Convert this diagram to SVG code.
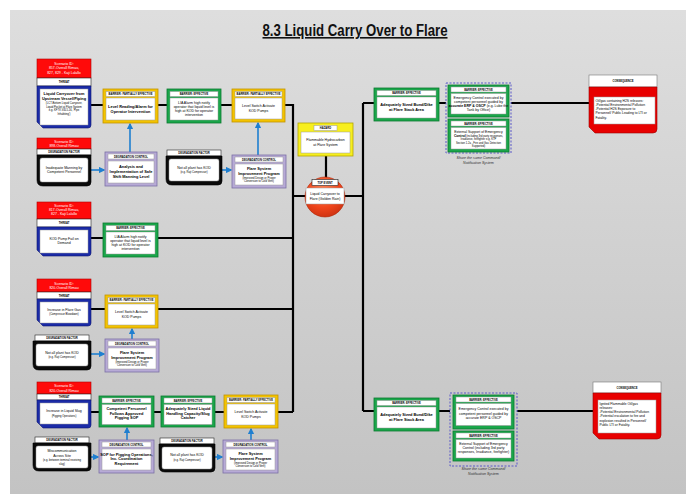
<svg xmlns="http://www.w3.org/2000/svg" width="686" height="494" viewBox="0 0 686 494">
<defs>
<linearGradient id="bg" x1="0" y1="0" x2="0" y2="1"><stop offset="0" stop-color="#dedede"/><stop offset="1" stop-color="#c3c3c3"/></linearGradient>
<radialGradient id="te" cx="0.45" cy="0.35" r="0.7"><stop offset="0" stop-color="#ff8a5a"/><stop offset="0.6" stop-color="#f0451c"/><stop offset="1" stop-color="#c93010"/></radialGradient>
<marker id="ah" viewBox="0 0 10 10" refX="8" refY="5" markerWidth="4" markerHeight="4" orient="auto"><path d="M0,0 L10,5 L0,10 z" fill="#1f7fd0"/></marker>
<style>
text{font-family:"Liberation Sans",Arial,sans-serif;text-anchor:middle;fill:#000}
.hd{font-size:2.7px;font-weight:bold}
.b{font-size:3.9px;font-weight:bold}
.n{font-size:3.5px}
.s{font-size:2.7px}
.sc{font-size:3.5px;fill:#fff}
.cap{font-size:3.6px;font-style:italic;fill:#333}
.cq{font-size:3.3px;text-anchor:start}
.g{fill:#1aa64a;stroke:#0c7a30;stroke-width:0.8}
.y{fill:#f3c300;stroke:#c29500;stroke-width:0.8}
.hz{fill:#f7ef1e;stroke:#b3a600;stroke-width:0.8}
.p{fill:#b7aad6;stroke:#7c70a6;stroke-width:0.8}
.w{fill:#fff;stroke:#9a9a9a;stroke-width:0.5}
.wb{fill:#fff;stroke:#222;stroke-width:0.6}
.red{fill:#ff0a0a;stroke:#b00000;stroke-width:0.6}
.blue{fill:#1b2ba8;stroke:#0d1670;stroke-width:0.6}
.blk{fill:#0a0a0a;stroke:#000;stroke-width:0.6}
.cr{fill:#e80000;stroke:#9a0000;stroke-width:0.6}
.grp{fill:none;stroke:#5a58c8;stroke-width:1;stroke-dasharray:2,1.5}
.ln{fill:none;stroke:#000;stroke-width:2.2}
.ar{fill:none;stroke:#1f7fd0;stroke-width:1.6;marker-end:url(#ah)}
.title{font-size:16px;font-weight:bold;text-decoration:underline;fill:#111}
</style>
</defs>
<rect x="10" y="10" width="676" height="484" fill="url(#bg)"/>
<text class="title" x="355" y="36" textLength="185" lengthAdjust="spacingAndGlyphs">8.3 Liquid Carry Over to Flare</text>

<g id="connectors">
<path class="ln" d="M91,105 H103 M158,105 H167 M221,105 H232 M285,105 H293 V412"/>
<path class="ln" d="M91,238 H103 M158,238 H293"/>
<path class="ln" d="M91,309 H105 M158,309 H293"/>
<path class="ln" d="M91,412 H99 M154,412 H161 M215,412 H224 M278,412 H293"/>
<path class="ln" d="M293,196 H363 M326,156 V178"/>
<path class="ln" d="M363,103 V411 M363,103 H374 M439,103 H446 M511,103 H589"/>
<path class="ln" d="M363,411 H374 M439,411 H450 M517,411 H593"/>
<path class="ar" d="M91,170 H104"/>
<path class="ar" d="M130,152 V124"/>
<path class="ar" d="M222,170 H231"/>
<path class="ar" d="M258,155 V123"/>
<path class="ar" d="M91,354 H104"/>
<path class="ar" d="M132,339 V329"/>
<path class="ar" d="M91,457 H98"/>
<path class="ar" d="M127,440 V428"/>
<path class="ar" d="M215,457 H222"/>
<path class="ar" d="M251,440 V429"/>
</g>

<g id="threat1">
<rect class="red" x="37" y="59" width="54" height="19"/>
<text class="sc" x="64" y="64.5">Scenario ID:</text>
<text class="sc" x="64" y="69">857-Overall Rimau,</text>
<text class="sc" x="64" y="73.5">827, 829 - Kaji Lalallo</text>
<rect class="wb" x="37" y="78" width="54" height="8"/>
<text class="hd" x="64" y="83">THREAT</text>
<path class="blue" d="M37,86 H91 V125 Q91,128 88,128 H43 L37,122 Z"/>
<rect class="w" x="40" y="89" width="48" height="36"/>
<text class="b" x="64" y="95">Liquid Carryover from</text>
<text class="b" x="64" y="99.5">Upstream Vessel/Piping</text>
<text class="s" x="64" y="104">(LCT-Bottom Liquid Carryover,</text>
<text class="s" x="64" y="107.5">Liquid Pocket at Flare System</text>
<text class="s" x="64" y="111">e.g. KFTV-V4L5-16, 'Pipe</text>
<text class="s" x="64" y="114.5">Inhabiting')</text>
</g>

<g id="barrier1">
<rect class="y" x="103" y="89" width="55" height="34"/>
<rect class="w" x="106" y="91.5" width="49" height="5"/>
<text class="hd" x="130.5" y="95">BARRIER: PARTIALLY EFFECTIVE</text>
<rect class="w" x="106" y="98" width="49" height="22"/>
<text class="b" x="130.5" y="107.5">Level Reading/Alarm for</text>
<text class="b" x="130.5" y="112.5">Operator Intervention</text>
</g>

<g id="barrier2">
<rect class="g" x="167" y="89" width="54" height="34"/>
<rect class="w" x="170" y="91.5" width="48" height="5"/>
<text class="hd" x="194" y="95">BARRIER: EFFECTIVE</text>
<rect class="w" x="170" y="98" width="48" height="22"/>
<text class="n" x="194" y="103.5">LIA Alarm high notify</text>
<text class="n" x="194" y="107.5">operator that liquid level is</text>
<text class="n" x="194" y="111.5">high at KOD for operator</text>
<text class="n" x="194" y="115.5">intervention</text>
</g>

<g id="barrier3">
<rect class="y" x="232" y="89" width="53" height="33"/>
<rect class="w" x="235" y="91.5" width="47" height="5"/>
<text class="hd" x="258.5" y="95">BARRIER: PARTIALLY EFFECTIVE</text>
<rect class="w" x="235" y="98" width="47" height="21"/>
<text class="n" x="258.5" y="107">Level Switch Activate</text>
<text class="n" x="258.5" y="111.5">KOD Pumps</text>
</g>

<g id="degfactor1">
<rect class="red" x="37" y="138" width="54" height="11"/>
<text class="sc" x="64" y="143">Scenario ID:</text>
<text class="sc" x="64" y="147.2">898-Overall Rimau</text>
<rect class="wb" x="37" y="149" width="54" height="6"/>
<text class="hd" x="64" y="153">DEGRADATION FACTOR</text>
<path class="blk" d="M37,155 H91 V182 Q91,186 87,186 H43 Q37,186 37,180 Z"/>
<rect class="w" x="40" y="158" width="48" height="24" rx="2"/>
<text class="n" x="64" y="168.5">Inadequate Manning by</text>
<text class="n" x="64" y="173">Competent Personnel</text>
</g>

<g id="degcontrol1">
<rect class="p" x="105" y="152" width="52" height="34"/>
<rect class="w" x="108" y="154" width="46" height="5"/>
<text class="hd" x="131" y="157.5">DEGRADATION CONTROL</text>
<rect class="w" x="108" y="161" width="46" height="22"/>
<text class="b" x="131" y="167.5">Analysis and</text>
<text class="b" x="131" y="172.5">Implementation of Safe</text>
<text class="b" x="131" y="177.5">Shift Manning Level</text>
</g>

<g id="degfactor2">
<rect class="wb" x="167" y="150" width="54" height="6"/>
<text class="hd" x="194" y="154">DEGRADATION FACTOR</text>
<path class="blk" d="M166,156 H222 V181 Q222,185 218,185 H172 Q166,185 166,179 Z"/>
<rect class="w" x="169" y="159" width="50" height="22" rx="2"/>
<text class="n" x="194" y="168.5">Not all plant has KOD</text>
<text class="s" x="194" y="173">(e.g. Rajt Compressor)</text>
</g>

<g id="degcontrol2">
<rect class="p" x="232" y="155" width="54" height="33"/>
<rect class="w" x="235" y="157" width="48" height="5"/>
<text class="hd" x="259" y="160.5">DEGRADATION CONTROL</text>
<rect class="w" x="235" y="164" width="48" height="21"/>
<text class="b" x="259" y="170">Flare System</text>
<text class="b" x="259" y="174.5">Improvement Program</text>
<text class="s" x="259" y="178.5">(Improved Design or Proper</text>
<text class="s" x="259" y="182">Conversion to Cold Vent)</text>
</g>

<g id="hazard">
<rect class="hz" x="298" y="123" width="55" height="33"/>
<rect class="w" x="314" y="125.5" width="23" height="5"/>
<text class="hd" x="325.5" y="129">HAZARD</text>
<rect class="w" x="301" y="132" width="49" height="21"/>
<text class="n" x="325.5" y="141">Flammable Hydrocarbon</text>
<text class="n" x="325.5" y="145.5">at Flare System</text>
</g>

<g id="topevent">
<circle cx="325" cy="197" r="20" fill="url(#te)" stroke="#b02a0c" stroke-width="0.6"/>
<rect class="wb" x="312" y="179.5" width="26" height="6"/>
<text class="hd" x="325" y="183.6">TOP EVENT</text>
<rect class="w" x="306" y="188" width="38" height="16"/>
<text class="n" x="325" y="194.5">Liquid Carryover to</text>
<text class="n" x="325" y="199.5">Flare (Golden Rain)</text>
</g>

<g id="threat2">
<rect class="red" x="37" y="202" width="54" height="17"/>
<text class="sc" x="64" y="207">Scenario ID:</text>
<text class="sc" x="64" y="211.2">817-Overall Rimau,</text>
<text class="sc" x="64" y="215.4">827 - Kaji Lalallo</text>
<rect class="wb" x="37" y="219" width="54" height="8"/>
<text class="hd" x="64" y="224">THREAT</text>
<path class="blue" d="M37,227 H91 V253 Q91,256 88,256 H43 L37,250 Z"/>
<rect class="w" x="40" y="230" width="48" height="23"/>
<text class="n" x="64" y="239.5">KOD Pump Fail on</text>
<text class="n" x="64" y="244">Demand</text>
</g>

<g id="barrier4">
<rect class="g" x="103" y="223" width="55" height="34"/>
<rect class="w" x="106" y="225.5" width="49" height="5"/>
<text class="hd" x="130.5" y="229">BARRIER: EFFECTIVE</text>
<rect class="w" x="106" y="232" width="49" height="22"/>
<text class="n" x="130.5" y="237.5">LIA Alarm high notify</text>
<text class="n" x="130.5" y="241.5">operator that liquid level is</text>
<text class="n" x="130.5" y="245.5">high at KOD for operator</text>
<text class="n" x="130.5" y="249.5">intervention</text>
</g>

<g id="threat3">
<rect class="red" x="37" y="279" width="54" height="13"/>
<text class="sc" x="64" y="284.5">Scenario ID:</text>
<text class="sc" x="64" y="289">820-Overall Rimau</text>
<rect class="wb" x="37" y="292" width="54" height="7"/>
<text class="hd" x="64" y="296.5">THREAT</text>
<path class="blue" d="M37,299 H91 V323 Q91,326 88,326 H43 L37,320 Z"/>
<rect class="w" x="40" y="302" width="48" height="21"/>
<text class="n" x="64" y="310.5">Increase in Flare Gas</text>
<text class="s" x="64" y="315">(Compressor Blowdown)</text>
</g>

<g id="barrier5">
<rect class="y" x="105" y="295" width="53" height="33"/>
<rect class="w" x="108" y="297.5" width="47" height="5"/>
<text class="hd" x="131.5" y="301">BARRIER: PARTIALLY EFFECTIVE</text>
<rect class="w" x="108" y="304" width="47" height="21"/>
<text class="n" x="131.5" y="313">Level Switch Activate</text>
<text class="n" x="131.5" y="317.5">KOD Pumps</text>
</g>

<g id="degfactor3">
<rect class="wb" x="35" y="335" width="54" height="6"/>
<text class="hd" x="62" y="339">DEGRADATION FACTOR</text>
<path class="blk" d="M33,341 H91 V366 Q91,370 87,370 H39 Q33,370 33,364 Z"/>
<rect class="w" x="36" y="344" width="52" height="22" rx="2"/>
<text class="n" x="62" y="353.5">Not all plant has KOD</text>
<text class="s" x="62" y="358">(e.g. Rajt Compressor)</text>
</g>

<g id="degcontrol3">
<rect class="p" x="105" y="339" width="54" height="33"/>
<rect class="w" x="108" y="341" width="48" height="5"/>
<text class="hd" x="132" y="344.5">DEGRADATION CONTROL</text>
<rect class="w" x="108" y="348" width="48" height="21"/>
<text class="b" x="132" y="354">Flare System</text>
<text class="b" x="132" y="358.5">Improvement Program</text>
<text class="s" x="132" y="362.5">(Improved Design or Proper</text>
<text class="s" x="132" y="366">Conversion to Cold Vent)</text>
</g>

<g id="threat4">
<rect class="red" x="37" y="382" width="54" height="12"/>
<text class="sc" x="64" y="387">Scenario ID:</text>
<text class="sc" x="64" y="391.5">820-Overall Rimau</text>
<rect class="wb" x="37" y="394" width="54" height="6"/>
<text class="hd" x="64" y="398">THREAT</text>
<path class="blue" d="M37,400 H91 V425 Q91,428 88,428 H43 L37,422 Z"/>
<rect class="w" x="40" y="403" width="48" height="21"/>
<text class="n" x="64" y="412">Increase in Liquid Slug</text>
<text class="s" x="64" y="416.5">(Pigging Operations)</text>
</g>

<g id="barrier6">
<rect class="g" x="99" y="396" width="55" height="31"/>
<rect class="w" x="102" y="398" width="49" height="5"/>
<text class="hd" x="126.5" y="401.5">BARRIER: EFFECTIVE</text>
<rect class="w" x="102" y="404.5" width="49" height="20"/>
<text class="b" x="126.5" y="410">Competent Personnel</text>
<text class="b" x="126.5" y="414.5">Follows Approved</text>
<text class="b" x="126.5" y="419">Pigging SOP</text>
</g>

<g id="barrier7">
<rect class="g" x="161" y="396" width="54" height="31"/>
<rect class="w" x="164" y="398" width="48" height="5"/>
<text class="hd" x="188" y="401.5">BARRIER: EFFECTIVE</text>
<rect class="w" x="164" y="404.5" width="48" height="20"/>
<text class="b" x="188" y="410">Adequately Sized Liquid</text>
<text class="b" x="188" y="414.5">Handling Capacity/Slug</text>
<text class="b" x="188" y="419">Catcher</text>
</g>

<g id="barrier8">
<rect class="y" x="224" y="395" width="54" height="33"/>
<rect class="w" x="227" y="397.5" width="48" height="5"/>
<text class="hd" x="251" y="401">BARRIER: PARTIALLY EFFECTIVE</text>
<rect class="w" x="227" y="404" width="48" height="21"/>
<text class="n" x="251" y="413">Level Switch Activate</text>
<text class="n" x="251" y="417.5">KOD Pumps</text>
</g>

<g id="degfactor4">
<rect class="wb" x="35" y="437" width="54" height="6"/>
<text class="hd" x="62" y="441">DEGRADATION FACTOR</text>
<path class="blk" d="M33,443 H91 V467 Q91,471 87,471 H39 Q33,471 33,465 Z"/>
<rect class="w" x="36" y="446" width="52" height="22" rx="2"/>
<text class="n" x="62" y="452">Miscommunication</text>
<text class="n" x="62" y="456.5">Across Site</text>
<text class="s" x="62" y="461">(e.g. between terminal receiving</text>
<text class="s" x="62" y="464.5">slug)</text>
</g>

<g id="degcontrol4">
<rect class="p" x="99" y="440" width="55" height="33"/>
<rect class="w" x="102" y="442" width="49" height="5"/>
<text class="hd" x="126.5" y="445.5">DEGRADATION CONTROL</text>
<rect class="w" x="102" y="449" width="49" height="21"/>
<text class="b" x="126.5" y="455.5">SOP for Pigging Operations,</text>
<text class="b" x="126.5" y="460">Inc. Coordination</text>
<text class="b" x="126.5" y="464.5">Requirement</text>
</g>

<g id="degfactor5">
<rect class="wb" x="160" y="438" width="54" height="6"/>
<text class="hd" x="187" y="442">DEGRADATION FACTOR</text>
<path class="blk" d="M159,444 H215 V468 Q215,472 211,472 H165 Q159,472 159,466 Z"/>
<rect class="w" x="162" y="447" width="50" height="22" rx="2"/>
<text class="n" x="187" y="456">Not all plant has KOD</text>
<text class="s" x="187" y="460.5">(e.g. Rajt Compressor)</text>
</g>

<g id="degcontrol5">
<rect class="p" x="223" y="440" width="55" height="33"/>
<rect class="w" x="226" y="442" width="49" height="5"/>
<text class="hd" x="250.5" y="445.5">DEGRADATION CONTROL</text>
<rect class="w" x="226" y="449" width="49" height="21"/>
<text class="b" x="250.5" y="455">Flare System</text>
<text class="b" x="250.5" y="459.5">Improvement Program</text>
<text class="s" x="250.5" y="463.5">(Improved Design or Proper</text>
<text class="s" x="250.5" y="467">Conversion to Cold Vent)</text>
</g>

<g id="barrierR1">
<rect class="g" x="374" y="88" width="65" height="33"/>
<rect class="w" x="377" y="90.5" width="59" height="5"/>
<text class="hd" x="406.5" y="94">BARRIER: EFFECTIVE</text>
<rect class="w" x="377" y="97" width="59" height="21"/>
<text class="b" x="406.5" y="105.5">Adequately Sized Bund/Dike</text>
<text class="b" x="406.5" y="110.5">at Flare Stack Area</text>
</g>

<g id="groupR1">
<rect class="grp" x="446" y="83" width="65" height="70"/>
<rect class="g" x="448" y="85" width="61" height="32"/>
<rect class="w" x="451" y="87" width="55" height="5"/>
<text class="hd" x="478.5" y="90.5">BARRIER: EFFECTIVE</text>
<rect class="w" x="451" y="93.5" width="55" height="20.5"/>
<text class="n" x="478.5" y="98.5">Emergency Control executed by</text>
<text class="n" x="478.5" y="102.5">competent personnel guided by</text>
<text class="n" x="478.5" y="106.5"><tspan font-weight="bold">accurate ERP &amp; OSCP</tspan> (e.g. Lube the</text>
<text class="n" x="478.5" y="110.5">Tank by Office)</text>
<rect class="g" x="448" y="119" width="61" height="33"/>
<rect class="w" x="451" y="121" width="55" height="5"/>
<text class="hd" x="478.5" y="124.5">BARRIER: EFFECTIVE</text>
<rect class="w" x="451" y="127.5" width="55" height="21.5"/>
<text class="n" x="478.5" y="132.5">External Support of Emergency</text>
<text class="s" x="478.5" y="136.5"><tspan font-weight="bold" font-size="3.3">Control</tspan> (including 3rd party responses,</text>
<text class="s" x="478.5" y="140">Irradiance, firefighter e.g. KTP</text>
<text class="s" x="478.5" y="143.5">Section 1.2a - Fire and Gas Detection</text>
<text class="s" x="478.5" y="147">Supported)</text>
<text class="cap" x="478.5" y="159">Share the same Command/</text>
<text class="cap" x="478.5" y="164">Notification System</text>
</g>

<g id="consequence1">
<rect class="wb" x="589" y="75" width="68" height="12" style="stroke:#777"/>
<text class="hd" x="623" y="82">CONSEQUENCE</text>
<path class="cr" d="M589,87 H657 V129 Q657,133 653,133 H595 L589,127 Z"/>
<rect class="w" x="594" y="97" width="61" height="27"/>
<text class="cq" x="595.5" y="101.5">Oil/gas containing H2S releases:</text>
<text class="cq" x="595.5" y="105.8">-Potential Environmental Pollution</text>
<text class="cq" x="595.5" y="110.1">-Potential H2S Exposure to</text>
<text class="cq" x="595.5" y="114.4">Personnel/ Public Leading to LTI or</text>
<text class="cq" x="595.5" y="118.7">Fatality.</text>
</g>

<g id="barrierR2">
<rect class="g" x="374" y="398" width="65" height="33"/>
<rect class="w" x="377" y="400.5" width="59" height="5"/>
<text class="hd" x="406.5" y="404">BARRIER: EFFECTIVE</text>
<rect class="w" x="377" y="407" width="59" height="21"/>
<text class="b" x="406.5" y="415.5">Adequately Sized Bund/Dike</text>
<text class="b" x="406.5" y="420.5">at Flare Stack Area</text>
</g>

<g id="groupR2">
<rect class="grp" x="450" y="393" width="67" height="73"/>
<rect class="g" x="453" y="395" width="61" height="34"/>
<rect class="w" x="456" y="397" width="55" height="5"/>
<text class="hd" x="483.5" y="400.5">BARRIER: EFFECTIVE</text>
<rect class="w" x="456" y="403.5" width="55" height="22"/>
<text class="n" x="483.5" y="410">Emergency Control executed by</text>
<text class="n" x="483.5" y="414.5">competent personnel guided by</text>
<text class="n" x="483.5" y="419">accurate ERP &amp; OSCP</text>
<rect class="g" x="453" y="431" width="61" height="30"/>
<rect class="w" x="456" y="433" width="55" height="5"/>
<text class="hd" x="483.5" y="436.5">BARRIER: EFFECTIVE</text>
<rect class="w" x="456" y="439.5" width="55" height="18.5"/>
<text class="n" x="483.5" y="445">External Support of Emergency</text>
<text class="n" x="483.5" y="449.2">Control (including 3rd party</text>
<text class="n" x="483.5" y="453.4">responses, Irradiance, firefighter)</text>
<text class="cap" x="483.5" y="470">Share the same Command/</text>
<text class="cap" x="483.5" y="475">Notification System</text>
</g>

<g id="consequence2">
<rect class="wb" x="593" y="382" width="68" height="11" style="stroke:#777"/>
<text class="hd" x="627" y="388.5">CONSEQUENCE</text>
<path class="cr" d="M593,393 H661 V435 Q661,439 657,439 H599 L593,433 Z"/>
<rect class="w" x="598" y="400" width="58" height="33"/>
<text class="cq" x="599.5" y="404.5">Ignited Flammable Oil/gas</text>
<text class="cq" x="599.5" y="408.8">releases:</text>
<text class="cq" x="599.5" y="413.1">-Potential Environmental Pollution</text>
<text class="cq" x="599.5" y="417.4">-Potential escalation to fire and</text>
<text class="cq" x="599.5" y="421.7">explosion resulted in Personnel/</text>
<text class="cq" x="599.5" y="426">Public LTI or Fatality.</text>
</g>
</svg>
